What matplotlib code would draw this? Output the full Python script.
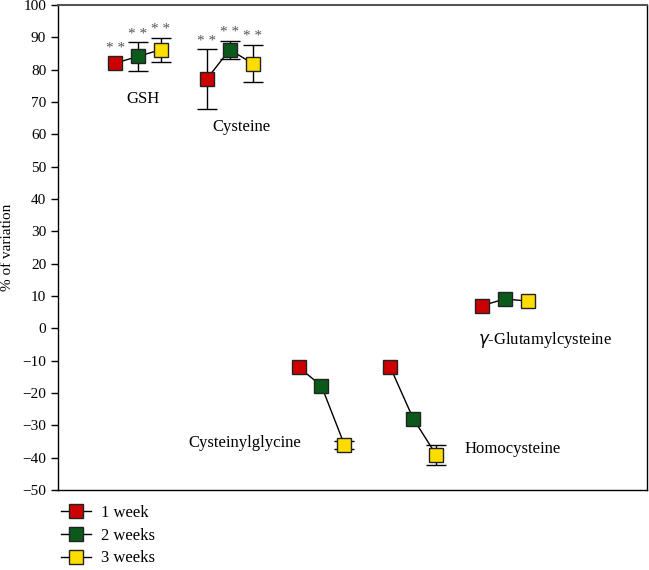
import matplotlib.pyplot as plt
from matplotlib.lines import Line2D
import numpy as np

# values (% of variation), one row per compound
compounds = ['GSH', 'Cysteine', 'Cysteinylglycine', 'Homocysteine', '$\\gamma$-Glutamylcysteine']
weeks = ['1 week', '2 weeks', '3 weeks']
week_colors = ['#cc0000', '#0b5a1c', '#ffdd00']

means = [
    [82.0, 84.1, 86.2],
    [77.1, 86.2, 81.9],
    [-12.0, -17.8, -36.0],
    [-12.0, -27.9, -39.1],
    [7.0, 9.1, 8.4],
]
errors = [
    [0.0, 4.4, 3.7],
    [9.2, 2.8, 5.8],
    [0.0, 0.0, 1.2],
    [0.0, 0.0, 3.1],
    [0.0, 0.0, 0.0],
]
significant = [
    [True, True, True],
    [True, True, True],
    [False, False, False],
    [False, False, False],
    [False, False, False],
]
label_pos = [(0.05, 71.0), (1.13, 62.2), (1.16, -35.6), (4.08, -37.4), (4.44, -3.7)]

plt.rcParams['font.family'] = ['Liberation Serif', 'DejaVu Serif']

fig = plt.figure(figsize=(6.49, 5.70), dpi=100)
ax = fig.add_axes([0.0894, 0.1404, 0.9076, 0.8508])

offsets = np.array([-0.25, 0.0, 0.25])
for g, name in enumerate(compounds):
    xs = g + offsets
    ax.plot(xs, means[g], color='black', linewidth=1, zorder=2)
    for k in range(3):
        if errors[g][k] > 0:
            ax.errorbar(xs[k], means[g][k], yerr=errors[g][k], color='black',
                        linewidth=1, capsize=7, capthick=1, zorder=2)
        ax.plot(xs[k], means[g][k], marker='s', markersize=10,
                markerfacecolor=week_colors[k], markeredgecolor='#222222',
                markeredgewidth=1, linestyle='none', zorder=3)
        if significant[g][k]:
            top = means[g][k] + max(errors[g][k], 2.2)
            ax.annotate('* *', (xs[k], top), xytext=(0, 1), textcoords='offset points',
                        ha='center', va='bottom', fontsize=11, color='#555555')
    ax.text(label_pos[g][0], label_pos[g][1], name, ha='center', va='center', fontsize=12)

ax.set_xlim(-0.872, 5.55)
ax.set_ylim(-50, 100)
ax.set_yticks(np.arange(-50, 101, 10))
ax.set_yticklabels([str(v).replace('-', '\u2212') for v in range(-50, 101, 10)])
ax.set_xticks([])
ax.tick_params(axis='y', direction='out', length=5, width=1, labelsize=11)
ax.set_ylabel('% of variation', fontsize=11, labelpad=6)
for s in ax.spines.values():
    s.set_linewidth(1)
ax.spines['top'].set_color('#555555')
ax.spines['top'].set_linewidth(1.5)

handles = [Line2D([0], [0], color='black', linewidth=1, marker='s', markersize=10,
                  markerfacecolor=c, markeredgecolor='#222222') for c in week_colors]
fig.legend(handles, weeks, loc='lower left', bbox_to_anchor=(0.071, -0.02),
           frameon=False, fontsize=12, handlelength=1.8, labelspacing=0.4,
           handletextpad=0.6)

fig.savefig('out.png', dpi=100)
